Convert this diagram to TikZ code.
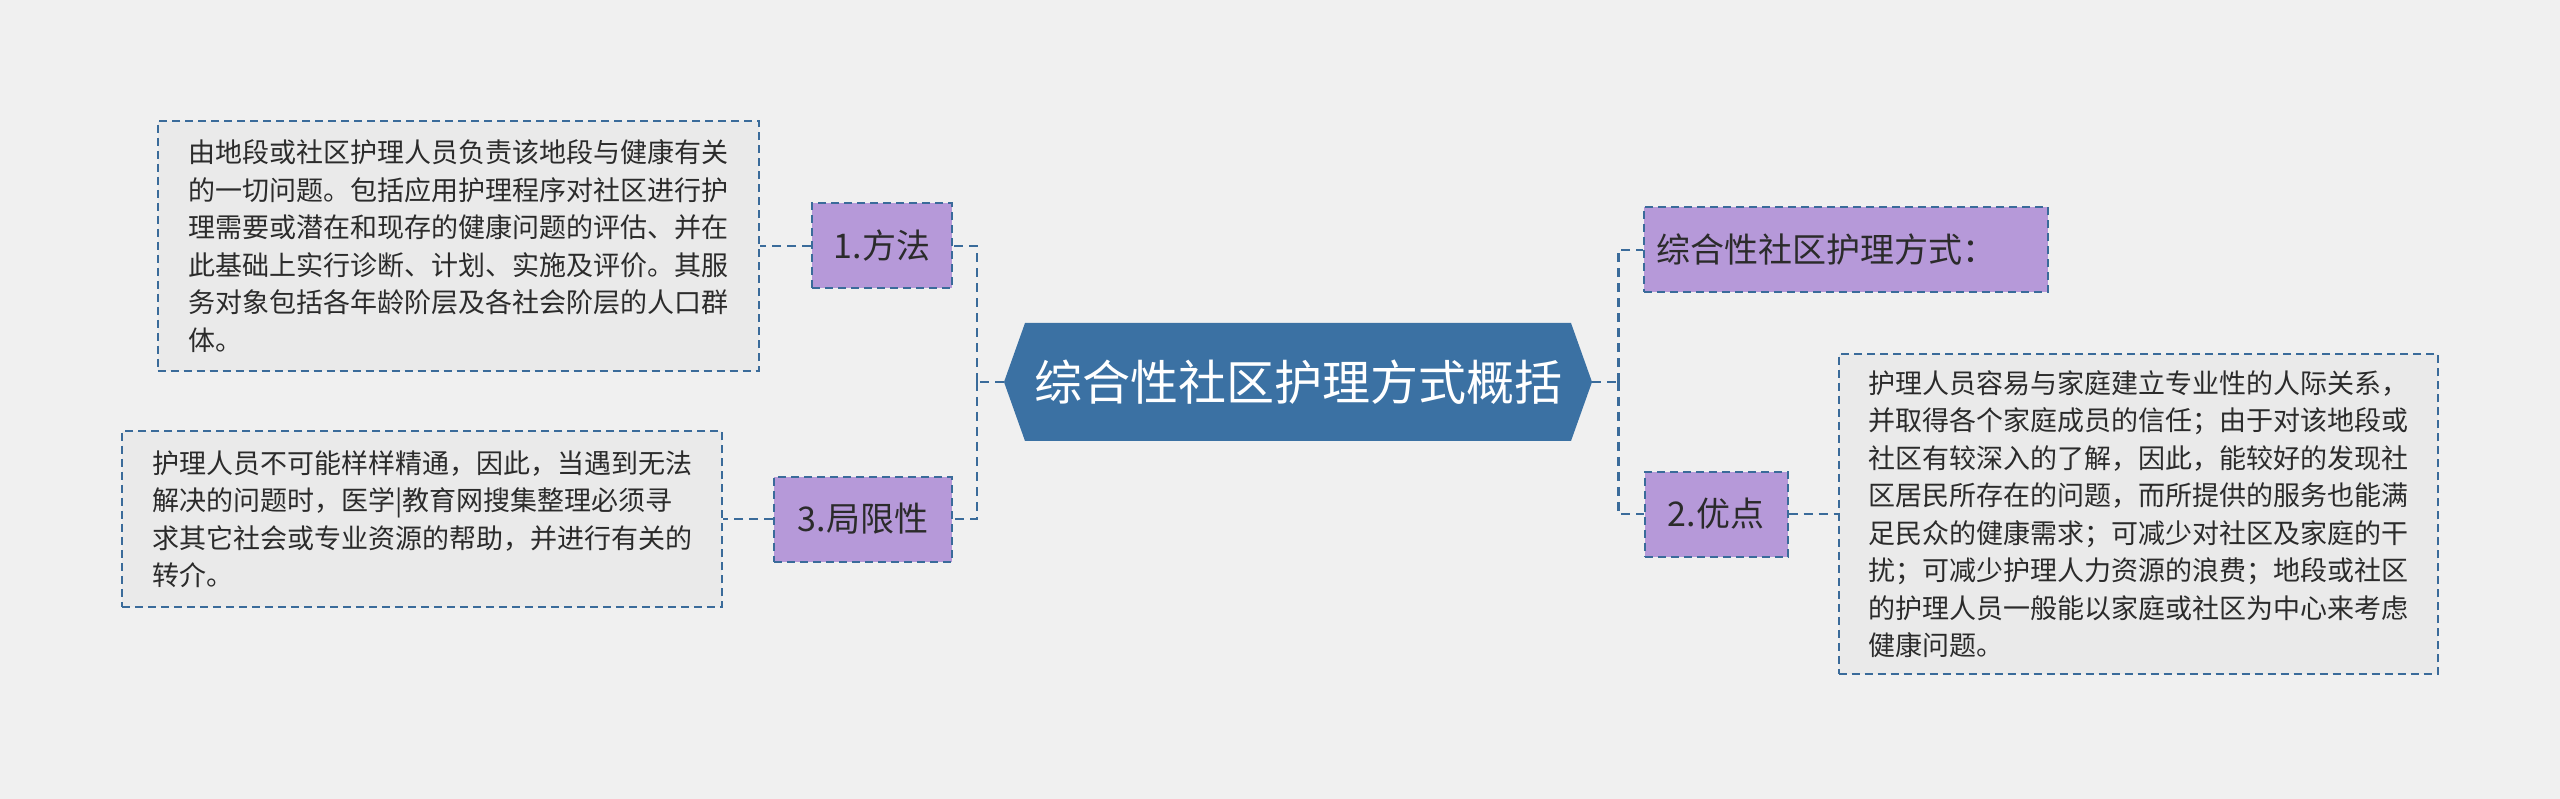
\documentclass[tikz,border=0pt]{standalone}
\usepackage{fontspec}
\setmainfont{Noto Sans CJK SC}
\usetikzlibrary{positioning,calc}
\definecolor{bgcol}{HTML}{F0F0F0}
\definecolor{rootblue}{HTML}{3B71A3}
\definecolor{linkblue}{HTML}{3A6B9A}
\definecolor{labpurple}{HTML}{B699D9}
\definecolor{notegray}{HTML}{EAEAEA}
\definecolor{inkcol}{HTML}{2B2B2B}
\tikzset{
  link/.style={draw=linkblue, line width=2.6pt, dash pattern=on 9pt off 6pt},
  labelbox/.style={draw=linkblue, fill=labpurple, line width=2pt, dash pattern=on 8pt off 5pt,
    inner sep=0pt, text=inkcol, font=\fontsize{34}{40}\selectfont},
  notebox/.style={draw=linkblue, fill=notegray, line width=2pt, dash pattern=on 8pt off 5pt,
    inner sep=0pt, align=left, text=inkcol, font=\fontsize{27}{37.5}\selectfont},
}
\begin{document}
\begin{tikzpicture}[x=1pt, y=-1pt]
    \fill[bgcol] (0,0) rectangle (2560,799);
    \useasboundingbox (0,0) rectangle (2560,799);

    % central topic
    \coordinate (C) at (1298,382);
    \fill[rootblue] ($(C)+(-294,0)$) -- ($(C)+(-273,-59)$) -- ($(C)+(273,-59)$)
        -- ($(C)+(294,0)$) -- ($(C)+(273,59)$) -- ($(C)+(-273,59)$) -- cycle;
    \node[minimum width=588pt, minimum height=118pt, inner sep=0pt, text=white,
        font=\fontsize{48}{56}\selectfont] (root) at (C) {综合性社区护理方式概括};

    % left branches
    \node[labelbox, minimum width=140pt, minimum height=85pt] (fangfa) at (882,246) {1.方法};
    \node[labelbox, minimum width=178pt, minimum height=85pt] (juxian) at (863,519) {3.局限性};
    \node[notebox, minimum width=601pt, minimum height=250pt] (fangfatext) at (458,246)
        {由地段或社区护理人员负责该地段与健康有关\\的一切问题。包括应用护理程序对社区进行护\\理需要或潜在和现存的健康问题的评估、并在\\此基础上实行诊断、计划、实施及评价。其服\\务对象包括各年龄阶层及各社会阶层的人口群\\体。};
    \node[notebox, minimum width=600pt, minimum height=176pt] (juxiantext) at (422,519)
        {护理人员不可能样样精通，因此，当遇到无法\\解决的问题时，医学|教育网搜集整理必须寻\\求其它社会或专业资源的帮助，并进行有关的\\转介。};

    % right branches
    \node[labelbox, minimum width=404pt, minimum height=85pt, text width=380pt, align=left] (fangshi) at (1846,250) {综合性社区护理方式：};
    \node[labelbox, minimum width=143pt, minimum height=85pt] (youdian) at (1716,514) {2.优点};
    \node[notebox, minimum width=599pt, minimum height=320pt] (youdiantext) at (2138,514)
        {护理人员容易与家庭建立专业性的人际关系，\\并取得各个家庭成员的信任；由于对该地段或\\社区有较深入的了解，因此，能较好的发现社\\区居民所存在的问题，而所提供的服务也能满\\足民众的健康需求；可减少对社区及家庭的干\\扰；可减少护理人力资源的浪费；地段或社区\\的护理人员一般能以家庭或社区为中心来考虑\\健康问题。};

    % connectors
    \draw[link] (root.west) -- ++(-27,0) coordinate (lbus);
    \draw[link] (lbus) |- (fangfa.east);
    \draw[link] (lbus) |- (juxian.east);
    \draw[link] (root.east) -- ++(26,0) coordinate (rbus);
    \draw[link] (rbus) |- (fangshi.west);
    \draw[link] (rbus) |- (youdian.west);
    \draw[link] (fangfa.west) -- (fangfatext.east);
    \draw[link] (juxian.west) -- (juxiantext.east);
    \draw[link] (youdian.east) -- (youdiantext.west);
\end{tikzpicture}
\end{document}
